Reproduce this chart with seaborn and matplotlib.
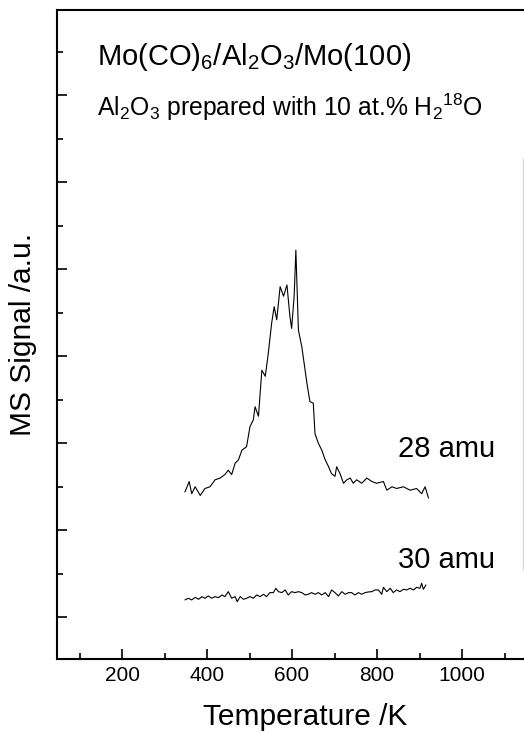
import matplotlib
matplotlib.use("Agg")
import matplotlib.pyplot as plt
import seaborn as sns
import pandas as pd
from matplotlib.ticker import MultipleLocator, FixedLocator

sns.set_style("ticks")
plt.rcParams['font.family'] = ['Liberation Sans', 'DejaVu Sans']
plt.rcParams['mathtext.fontset'] = 'custom'
plt.rcParams['mathtext.rm'] = 'Liberation Sans'
plt.rcParams['mathtext.it'] = 'Liberation Sans'
plt.rcParams['text.color'] = 'black'
plt.rcParams['axes.labelcolor'] = 'black'
plt.rcParams['xtick.color'] = 'black'
plt.rcParams['ytick.color'] = 'black'
plt.rcParams['xtick.labelcolor'] = 'black'

# 28 amu trace (temperature K, signal a.u.)
t28 = [348, 358, 364, 372, 384, 395, 407, 419, 431, 442, 450, 458, 466, 474, 482, 493,
       501, 509, 513, 521, 529, 537, 544, 552, 558, 564, 572, 580, 588, 595, 599, 605,
       609, 615, 623, 635, 642, 650, 654, 662, 670, 678, 686, 693, 701, 705, 713, 721,
       729, 737, 744, 752, 764, 776, 788, 799, 815, 823, 835, 846, 862, 878, 893, 905,
       913, 921]
s28 = [1.44, 1.56, 1.42, 1.50, 1.40, 1.48, 1.50, 1.58, 1.60, 1.64, 1.69, 1.64, 1.77, 1.81, 1.92, 1.96,
       2.19, 2.27, 2.42, 2.31, 2.84, 2.77, 3.03, 3.38, 3.57, 3.42, 3.80, 3.69, 3.82, 3.46, 3.32, 3.69,
       4.22, 3.30, 3.11, 2.69, 2.48, 2.46, 2.11, 2.00, 1.92, 1.81, 1.73, 1.65, 1.62, 1.73, 1.65, 1.54,
       1.58, 1.60, 1.54, 1.58, 1.54, 1.60, 1.56, 1.54, 1.56, 1.46, 1.50, 1.48, 1.50, 1.46, 1.48, 1.42,
       1.50, 1.37]

# 30 amu trace
t30 = [348, 356, 364, 372, 380, 388, 395, 403, 411, 419, 427, 435, 442, 450, 458, 466,
       471, 478, 486, 493, 501, 509, 517, 525, 533, 540, 548, 556, 562, 568, 576, 584,
       591, 599, 607, 615, 623, 631, 638, 646, 654, 662, 670, 678, 686, 693, 701, 709,
       717, 725, 733, 740, 748, 756, 764, 772, 780, 788, 795, 803, 811, 815, 823, 831,
       838, 846, 854, 862, 870, 878, 886, 893, 901, 905, 909, 915]
s30 = [0.199, 0.218, 0.199, 0.229, 0.206, 0.237, 0.218, 0.245, 0.218, 0.237, 0.225, 0.256, 0.237, 0.294, 0.218, 0.237,
       0.179, 0.237, 0.206, 0.218, 0.237, 0.218, 0.256, 0.237, 0.264, 0.237, 0.283, 0.283, 0.333, 0.294, 0.283, 0.314,
       0.256, 0.294, 0.283, 0.294, 0.283, 0.256, 0.264, 0.283, 0.264, 0.283, 0.256, 0.283, 0.237, 0.314, 0.283, 0.245,
       0.294, 0.264, 0.283, 0.283, 0.256, 0.283, 0.264, 0.283, 0.291, 0.294, 0.314, 0.314, 0.264, 0.344, 0.294, 0.333,
       0.283, 0.314, 0.294, 0.321, 0.314, 0.333, 0.314, 0.344, 0.333, 0.390, 0.321, 0.371]

major_x = [200, 400, 600, 800, 1000]
minor_x = [100, 300, 500, 700, 900, 1100]

df28 = pd.DataFrame({"T": t28, "S": s28})
df30 = pd.DataFrame({"T": t30, "S": s30})

fig = plt.figure(figsize=(5.24, 7.34), dpi=100)
ax = fig.add_axes([57/524, 75/734, (553 - 57)/524, (659 - 10)/734])

sns.lineplot(data=df28, x="T", y="S", ax=ax, color="black", lw=0.8, sort=False)
sns.lineplot(data=df30, x="T", y="S", ax=ax, color="black", lw=0.8, sort=False)

# faint vertical scan line near the right edge of the reference
ax.axvline(1143.5, ymin=0.137, ymax=0.77, color="#d8d8d8", lw=1.0)

ax.set_xlim(47, 1214)
ax.set_ylim(-0.48, 6.98)
ax.xaxis.set_major_locator(FixedLocator(major_x))
ax.xaxis.set_minor_locator(FixedLocator(minor_x))
ax.yaxis.set_major_locator(MultipleLocator(1))
ax.yaxis.set_minor_locator(MultipleLocator(0.5))
ax.set_yticklabels([])
ax.tick_params(which="both", direction="in", width=1.2, color="black", labelcolor="black")
ax.tick_params(which="major", length=7, labelsize=15, pad=5)
ax.tick_params(which="minor", length=4)
ax.tick_params(axis="y", which="both", left=True, right=False)
ax.tick_params(axis="x", which="both", bottom=True, top=False)
for side in ["left", "bottom", "top"]:
    ax.spines[side].set_linewidth(1.5)
    ax.spines[side].set_color("black")
ax.spines["right"].set_visible(False)

ax.set_xlabel("Temperature /K", fontsize=21.5, labelpad=13, color="black")
ax.set_ylabel("MS Signal /a.u.", fontsize=21.5, color="black")
ax.yaxis.set_label_coords(-0.041, 0.5)

ax.text(0.0806, 0.915, r"Mo(CO)$_6$/Al$_2$O$_3$/Mo(100)", transform=ax.transAxes,
        fontsize=21, ha="left", va="baseline", color="black")
ax.text(0.0806, 0.837, r"Al$_2$O$_3$ prepared with 10 at.% H$_2$$^{18}$O", transform=ax.transAxes,
        fontsize=17.8, ha="left", va="baseline", color="black")
ax.text(0.6875, 0.311, "28 amu", transform=ax.transAxes, fontsize=21, ha="left", va="baseline", color="black")
ax.text(0.6875, 0.140, "30 amu", transform=ax.transAxes, fontsize=21, ha="left", va="baseline", color="black")

ax.set_facecolor("white")
fig.patch.set_facecolor("white")
fig.savefig("out.png", dpi=100)
